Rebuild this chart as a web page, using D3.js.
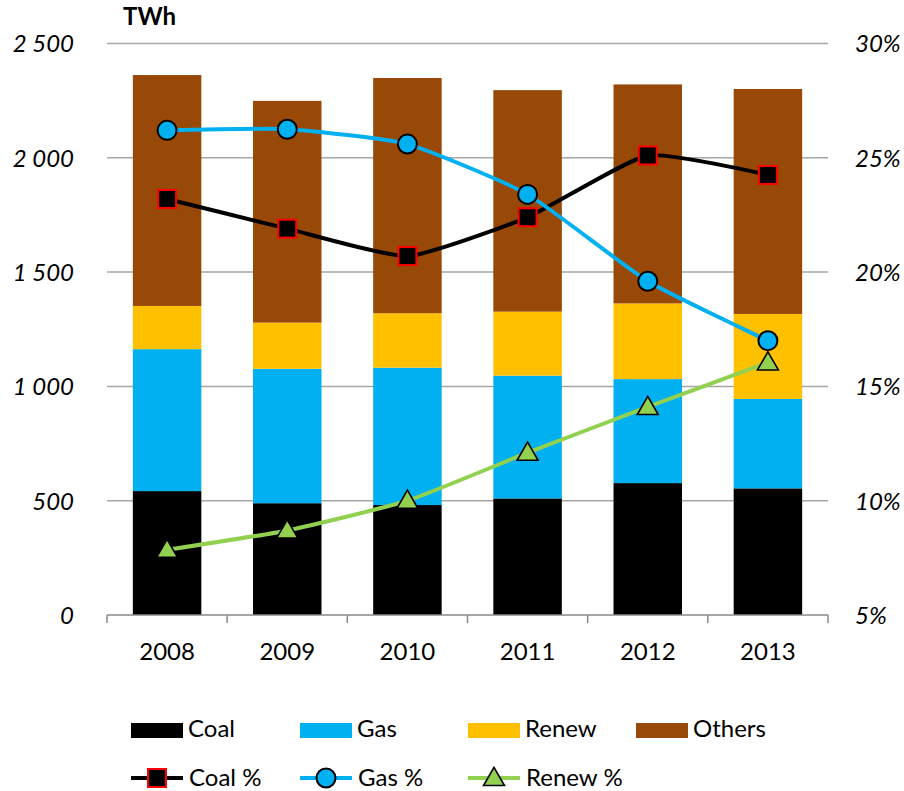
<!DOCTYPE html>
<html>
<head>
<meta charset="utf-8">
<script src="https://cdn.jsdelivr.net/npm/d3@7"></script>
<style>
  html, body { margin: 0; padding: 0; background: #fff; }
  svg { display: block; font-family: Lato, "Open Sans", sans-serif; }
</style>
</head>
<body>
<svg id="chart" width="904" height="791"></svg>
<script>
// ---- data ----
const years = ["2008", "2009", "2010", "2011", "2012", "2013"];
const coal   = [542, 489, 481, 510, 577, 554];
const gas    = [621, 588, 601, 537, 455, 391];
const renew  = [189, 202, 238, 280, 331, 372];
const others = [1010, 970, 1029, 969, 958, 984];
const coalPct  = [23.2, 21.9, 20.7, 22.4, 25.1, 24.25];
const gasPct   = [26.2, 26.25, 25.6, 23.4, 19.6, 17.0];
const renewPct = [7.85, 8.7, 10.0, 12.1, 14.1, 16.05];
const leftTicks  = [0, 500, 1000, 1500, 2000, 2500];
const rightTicks = [5, 10, 15, 20, 25, 30];
const unitLabel = "TWh";
const stackKeys = ["Coal", "Gas", "Renew", "Others"];
const stackColors = ["#000000", "#00B0F0", "#FFC000", "#984807"];
const lineNames = ["Coal %", "Gas %", "Renew %"];

// ---- setup ----
const svg = d3.select("#chart");
const L = 107, R = 828, T = 43.5, B = 615;

const x = d3.scaleBand().domain(years).range([L, R]).paddingInner(0.43).paddingOuter(0.215);
const y = d3.scaleLinear().domain([0, 2500]).range([B, T]);
const yR = d3.scaleLinear().domain([5, 30]).range([B, T]);

// gridlines
svg.append("g").selectAll("line").data(leftTicks.filter(d => d > 0)).join("line")
  .attr("x1", L).attr("x2", R)
  .attr("y1", d => y(d)).attr("y2", d => y(d))
  .attr("stroke", "#A6A6A6").attr("stroke-width", 1.5);

// stacked bars
const rows = years.map((yr, i) => ({ year: yr, Coal: coal[i], Gas: gas[i], Renew: renew[i], Others: others[i] }));
const stacked = d3.stack().keys(stackKeys)(rows);
svg.append("g").selectAll("g").data(stacked).join("g")
  .attr("fill", (d, i) => stackColors[i])
  .selectAll("rect").data(d => d).join("rect")
  .attr("x", d => x(d.data.year))
  .attr("width", x.bandwidth())
  .attr("y", d => y(d[1]))
  .attr("height", d => y(d[0]) - y(d[1]));

// x axis line and boundary ticks
const step = x.step();
const bounds = years.map(yr => x(yr) - step * x.paddingInner() / 2).concat([R]);
svg.append("line").attr("x1", L).attr("x2", R).attr("y1", B).attr("y2", B)
  .attr("stroke", "#898989").attr("stroke-width", 1.5);
svg.append("g").selectAll("line").data(bounds).join("line")
  .attr("x1", d => d).attr("x2", d => d).attr("y1", B).attr("y2", B + 8)
  .attr("stroke", "#898989").attr("stroke-width", 1.5);

// x labels
const xAxis = d3.axisBottom(x).tickSize(0).tickPadding(0);
const gx = svg.append("g").attr("transform", `translate(0,${B})`).call(xAxis);
gx.select(".domain").remove();
gx.selectAll("text").attr("y", 45).attr("dy", null)
  .style("font-family", "Lato, sans-serif").style("font-size", "24px").attr("fill", "#000");

// left axis
const fmtL = d => d3.format(",")(d).replace(/,/g, " ");
const gl = svg.append("g").attr("transform", `translate(${L},0)`)
  .call(d3.axisLeft(y).tickValues(leftTicks).tickFormat(fmtL).tickSize(0).tickPadding(33));
gl.select(".domain").remove();
gl.selectAll("text").attr("dy", "0.35em")
  .style("font-family", "Lato, sans-serif").style("font-size", "24px").style("font-style", "italic").attr("fill", "#000");

// right axis
const gr = svg.append("g").attr("transform", `translate(${R},0)`)
  .call(d3.axisRight(yR).tickValues(rightTicks).tickFormat(d => d + "%").tickSize(0).tickPadding(27));
gr.select(".domain").remove();
gr.selectAll("text").attr("dy", "0.35em")
  .style("font-family", "Lato, sans-serif").style("font-size", "24px").style("font-style", "italic").attr("fill", "#000");

// unit label
svg.append("text").attr("x", 123).attr("y", 25).text(unitLabel)
  .style("font-family", "Lato, sans-serif").style("font-size", "24px").style("font-weight", "bold");

// lines
const cx = yr => x(yr) + x.bandwidth() / 2;
const lineGen = d3.line().x(d => cx(d.year)).y(d => yR(d.v)).curve(d3.curveCardinal.tension(0.5));
const series = [
  { name: lineNames[0], vals: coalPct,  color: "#000000", marker: "square" },
  { name: lineNames[1], vals: gasPct,   color: "#00B0F0", marker: "circle" },
  { name: lineNames[2], vals: renewPct, color: "#92D050", marker: "triangle" }
];

function drawMarker(g, type, px, py) {
  if (type === "square") {
    g.append("rect").attr("x", px - 9).attr("y", py - 9).attr("width", 18).attr("height", 18)
      .attr("fill", "#000").attr("stroke", "#FF0000").attr("stroke-width", 2);
  } else if (type === "circle") {
    g.append("circle").attr("cx", px).attr("cy", py).attr("r", 9.5)
      .attr("fill", "#00B0F0").attr("stroke", "#000").attr("stroke-width", 2);
  } else {
    const s = d3.symbol().type(d3.symbolTriangle).size(190);
    g.append("path").attr("d", s()).attr("transform", `translate(${px},${py + 1.5})`)
      .attr("fill", "#92D050").attr("stroke", "#000").attr("stroke-width", 1.6);
  }
}

// draw order: renew, coal, gas (gas on top)
const order = [2, 0, 1];
order.forEach(k => {
  const s = series[k];
  const data = years.map((yr, i) => ({ year: yr, v: s.vals[i] }));
  svg.append("path").datum(data).attr("d", lineGen)
    .attr("fill", "none").attr("stroke", s.color).attr("stroke-width", 4);
});
order.forEach(k => {
  const s = series[k];
  const g = svg.append("g");
  years.forEach((yr, i) => drawMarker(g, s.marker, cx(yr), yR(s.vals[i])));
});

// legend row 1
const legX = [131, 300, 468, 636];
const leg1 = svg.append("g");
stackKeys.forEach((k, i) => {
  leg1.append("rect").attr("x", legX[i]).attr("y", 723).attr("width", 52).attr("height", 15).attr("fill", stackColors[i]);
  leg1.append("text").attr("x", legX[i] + 57).attr("y", 737).text(k)
    .style("font-family", "Lato, sans-serif").style("font-size", "24px");
});
// legend row 2
const leg2 = svg.append("g");
series.forEach((s, i) => {
  const lx = legX[i], ly = 778;
  leg2.append("line").attr("x1", lx).attr("x2", lx + 52).attr("y1", ly).attr("y2", ly)
    .attr("stroke", s.color).attr("stroke-width", 4);
  drawMarker(leg2, s.marker, lx + 26, ly);
  leg2.append("text").attr("x", lx + 58).attr("y", 786).text(s.name)
    .style("font-family", "Lato, sans-serif").style("font-size", "24px");
});
</script>
</body>
</html>
